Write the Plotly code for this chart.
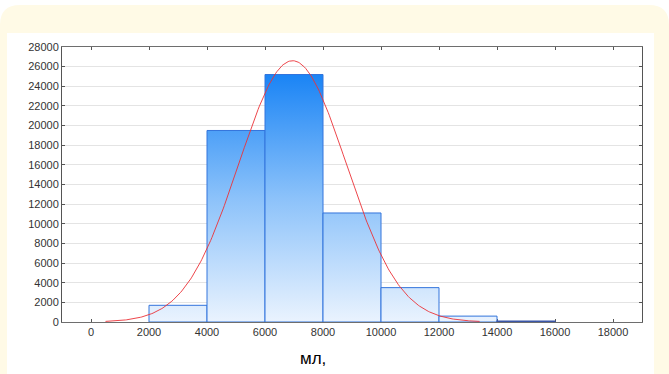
import numpy as np
import plotly.graph_objects as go

# ---- data ----
bin_edges = [2000, 4000, 6000, 8000, 10000, 12000, 14000, 16000]
counts = [1700, 19500, 25200, 11100, 3500, 600, 80]
x_ticks = [0, 2000, 4000, 6000, 8000, 10000, 12000, 14000, 16000, 18000]
y_ticks = list(range(0, 28001, 2000))
fit_mean = 6950
fit_sd = 1850
curve_from, curve_to = 500, 13400
x_title = "мл,"

# ---- layout geometry (px) ----
W, H = 669, 374
L, R, T, B = 62, 27, 47, 52
pw, ph = W - L - R, H - T - B


def px_to_paper_x(px):
    return (px - L) / pw


def px_to_paper_y(py):
    return (H - B - py) / ph


fig = go.Figure()

# histogram bars as gradient-filled polygons
for i, c in enumerate(counts):
    x0, x1 = bin_edges[i], bin_edges[i + 1]
    dark = c < 200
    fig.add_trace(go.Scatter(
        x=[x0, x0, x1, x1, x0],
        y=[0, c, c, 0, 0],
        mode="lines",
        fill="toself",
        fillgradient=dict(type="vertical", start=0, stop=25200,
                          colorscale=[[0, "#EAF3FE"], [0.5, "#8CC2FA"], [1, "#1A84F5"]]),
        line=dict(color="#3A56A8" if dark else "#3374DC", width=1.3 if dark else 1),
        hoverinfo="skip",
        showlegend=False,
        cliponaxis=False,
    ))

# fitted normal curve
n_total = sum(counts)
bw = bin_edges[1] - bin_edges[0]
xc = np.linspace(curve_from, curve_to, 300)
yc = n_total * bw / (fit_sd * np.sqrt(2 * np.pi)) * np.exp(-0.5 * ((xc - fit_mean) / fit_sd) ** 2)
fig.add_trace(go.Scatter(x=xc, y=yc, mode="lines",
                         line=dict(color="rgba(235,50,55,0.9)", width=1),
                         hoverinfo="skip", showlegend=False))

shapes = [
    # cream rounded frame
    dict(type="path", xref="paper", yref="paper", layer="below",
         path=("M {a},{b} L {c},{b} Q {d},{b} {d},{e} L {d},{f} L {g},{f} L {g},{e} Q {g},{b} {a},{b} Z").format(
             a=px_to_paper_x(20), b=px_to_paper_y(5), c=px_to_paper_x(649),
             d=px_to_paper_x(669), e=px_to_paper_y(25), f=px_to_paper_y(380),
             g=px_to_paper_x(0)),
         fillcolor="#FFFAE6", line=dict(width=0)),
    # white inner panel
    dict(type="rect", xref="paper", yref="paper", layer="below",
         x0=px_to_paper_x(7), x1=px_to_paper_x(654),
         y0=px_to_paper_y(380), y1=px_to_paper_y(33),
         fillcolor="white", line=dict(width=0)),
]

fig.update_layout(
    width=W, height=H,
    margin=dict(l=L, r=R, t=T, b=B, pad=0),
    paper_bgcolor="white",
    plot_bgcolor="white",
    shapes=shapes,
    font=dict(family="Liberation Sans, Arial, sans-serif", size=11, color="#333333"),
    xaxis=dict(range=[-1000, 19000], tickvals=x_ticks,
               ticktext=[str(v) for v in x_ticks],
               showgrid=False, zeroline=False,
               showline=True, linecolor="#6E6E6E", linewidth=1.3, mirror="ticks",
               ticks="inside", ticklen=3, tickcolor="#555555",
               layer="below traces",
               tickfont=dict(size=11, color="#333333")),
    yaxis=dict(range=[0, 28000], tickvals=y_ticks,
               ticktext=[str(v) for v in y_ticks],
               showgrid=True, gridcolor="#E4E4E4", gridwidth=1,
               zeroline=False,
               showline=True, linecolor="#555555", linewidth=1, mirror="ticks",
               ticks="inside", ticklen=3, tickcolor="#555555",
               layer="below traces",
               tickfont=dict(size=11, color="#333333")),
    annotations=[dict(text=x_title, xref="paper", yref="paper",
                      x=px_to_paper_x(313), y=px_to_paper_y(358),
                      xanchor="center", yanchor="middle", showarrow=False,
                      font=dict(size=17, color="#000000",
                                family="Liberation Sans, Arial, sans-serif"))],
)

fig.write_html("out.html")
